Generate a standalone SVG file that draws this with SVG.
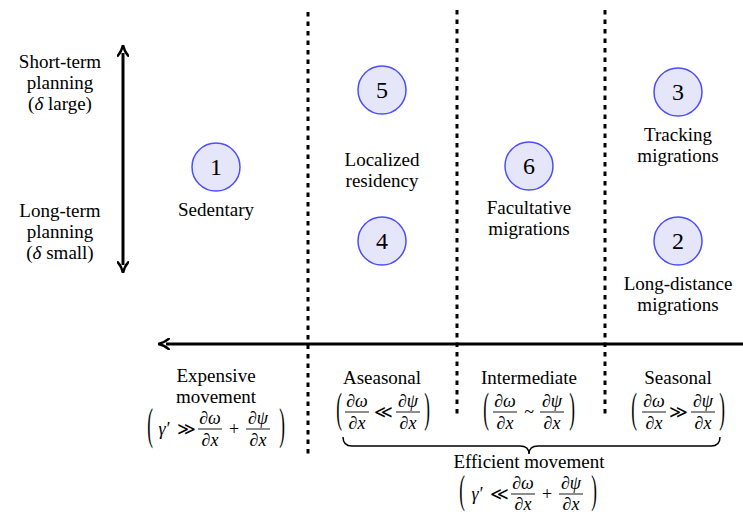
<svg xmlns="http://www.w3.org/2000/svg" width="743" height="517" viewBox="0 0 743 517" font-family="'Liberation Serif', 'Times New Roman', 'DejaVu Serif', serif">
<defs>
<style>
text{font-family:'Liberation Serif','Times New Roman','DejaVu Serif',serif;fill:#000;text-anchor:middle}
.lb{font-size:19px}
.num{font-size:24px}
.m{font-size:18px;font-style:italic}
.op{font-size:18px}
.par{font-size:17px}
.node circle{fill:#e6e6fa;stroke:#4d4dff;stroke-width:1.5}
.dot{stroke:#000;stroke-width:3;stroke-dasharray:4.5 5;fill:none}
.bar{stroke:#000;stroke-width:0.9}
.arr{stroke:#000;stroke-width:3;fill:none}
</style>
<marker id="ah" viewBox="0 0 10 10" refX="3" refY="5" markerWidth="4" markerHeight="4" orient="auto-start-reverse" markerUnits="strokeWidth">
<path d="M0,0 Q4,4 10,5 Q4,6 0,10" fill="none" stroke="#000" stroke-width="2"/>
</marker>
</defs>
<rect width="743" height="517" fill="#fff"/>

<g id="connectors">
<line class="dot" x1="308" y1="12" x2="308" y2="457"/>
<line class="dot" x1="457" y1="10" x2="457" y2="416"/>
<line class="dot" x1="605" y1="10" x2="605" y2="416"/>
<line class="arr" x1="743" y1="344" x2="166" y2="344" marker-end="url(#ah)"/>
<line class="arr" x1="123" y1="53" x2="123" y2="265" marker-start="url(#ah)" marker-end="url(#ah)"/>
<path d="M343,437 Q343,446 352,446 L520,446 Q529,446 529,454 Q529,446 538,446 L711,446 Q720,446 720,437" fill="none" stroke="#000" stroke-width="1.5"/>
</g>

<g id="axis-labels">
<text class="lb" x="60" y="68">Short-term</text>
<text class="lb" x="60" y="89">planning</text>
<text class="lb" x="60" y="110">(<tspan font-style="italic">δ</tspan> large)</text>
<text class="lb" x="60" y="217">Long-term</text>
<text class="lb" x="60" y="238">planning</text>
<text class="lb" x="60" y="259">(<tspan font-style="italic">δ</tspan> small)</text>
</g>

<g id="n1" class="node"><circle cx="216" cy="167" r="24"/><text class="num" x="216" y="175">1</text><text class="lb" x="216" y="216">Sedentary</text></g>
<g id="n5" class="node"><circle cx="382" cy="90" r="24"/><text class="num" x="382" y="98">5</text></g>
<g id="localized"><text class="lb" x="382" y="166">Localized</text><text class="lb" x="382" y="187">residency</text></g>
<g id="n4" class="node"><circle cx="382" cy="241" r="24"/><text class="num" x="382" y="249">4</text></g>
<g id="n6" class="node"><circle cx="529" cy="166" r="24"/><text class="num" x="529" y="174">6</text><text class="lb" x="529" y="214">Facultative</text><text class="lb" x="529" y="235">migrations</text></g>
<g id="n3" class="node"><circle cx="678" cy="92" r="24"/><text class="num" x="678" y="100">3</text><text class="lb" x="678" y="141">Tracking</text><text class="lb" x="678" y="162">migrations</text></g>
<g id="n2" class="node"><circle cx="678" cy="241" r="24"/><text class="num" x="678" y="249">2</text><text class="lb" x="678" y="290">Long-distance</text><text class="lb" x="678" y="311">migrations</text></g>

<g id="expensive">
<text class="lb" x="216" y="382">Expensive</text>
<text class="lb" x="216" y="403">movement</text>
<text class="par" transform="translate(150,429) scale(1,2.6)" y="4">(</text>
<text class="m" x="164" y="435">γ′</text>
<text class="op" x="186" y="435">≫</text>
<text class="m" x="210" y="424">∂ω</text><line class="bar" x1="198" y1="429" x2="222" y2="429"/><text class="m" x="210" y="446">∂x</text>
<text class="op" x="234" y="435">+</text>
<text class="m" x="258" y="424">∂ψ</text><line class="bar" x1="246" y1="429" x2="270" y2="429"/><text class="m" x="258" y="446">∂x</text>
<text class="par" transform="translate(282,429) scale(1,2.6)" y="4">)</text>
</g>

<g id="aseasonal">
<text class="lb" x="382" y="384">Aseasonal</text>
<text class="par" transform="translate(339,412) scale(1,2.5)" y="4">(</text>
<text class="m" x="357" y="407">∂ω</text><line class="bar" x1="345" y1="412" x2="369" y2="412"/><text class="m" x="357" y="429">∂x</text>
<text class="op" x="383" y="418">≪</text>
<text class="m" x="408" y="407">∂ψ</text><line class="bar" x1="396" y1="412" x2="420" y2="412"/><text class="m" x="408" y="429">∂x</text>
<text class="par" transform="translate(427,412) scale(1,2.5)" y="4">)</text>
</g>

<g id="intermediate">
<text class="lb" x="529" y="384">Intermediate</text>
<text class="par" transform="translate(486,412) scale(1,2.5)" y="4">(</text>
<text class="m" x="505" y="407">∂ω</text><line class="bar" x1="493" y1="412" x2="517" y2="412"/><text class="m" x="505" y="429">∂x</text>
<text class="op" x="529" y="418">~</text>
<text class="m" x="552" y="407">∂ψ</text><line class="bar" x1="540" y1="412" x2="564" y2="412"/><text class="m" x="552" y="429">∂x</text>
<text class="par" transform="translate(572,412) scale(1,2.5)" y="4">)</text>
</g>

<g id="seasonal">
<text class="lb" x="678" y="384">Seasonal</text>
<text class="par" transform="translate(634,412) scale(1,2.5)" y="4">(</text>
<text class="m" x="654" y="407">∂ω</text><line class="bar" x1="642" y1="412" x2="666" y2="412"/><text class="m" x="654" y="429">∂x</text>
<text class="op" x="678" y="418">≫</text>
<text class="m" x="703" y="407">∂ψ</text><line class="bar" x1="691" y1="412" x2="715" y2="412"/><text class="m" x="703" y="429">∂x</text>
<text class="par" transform="translate(722,412) scale(1,2.5)" y="4">)</text>
</g>

<g id="efficient">
<text class="lb" x="529" y="468">Efficient movement</text>
<text class="par" transform="translate(462,494) scale(1,2.3)" y="4">(</text>
<text class="m" x="477" y="500">γ′</text>
<text class="op" x="499" y="500">≪</text>
<text class="m" x="523" y="489">∂ω</text><line class="bar" x1="511" y1="494" x2="535" y2="494"/><text class="m" x="523" y="510">∂x</text>
<text class="op" x="547" y="500">+</text>
<text class="m" x="571" y="489">∂ψ</text><line class="bar" x1="559" y1="494" x2="583" y2="494"/><text class="m" x="571" y="510">∂x</text>
<text class="par" transform="translate(594,494) scale(1,2.3)" y="4">)</text>
</g>
</svg>
